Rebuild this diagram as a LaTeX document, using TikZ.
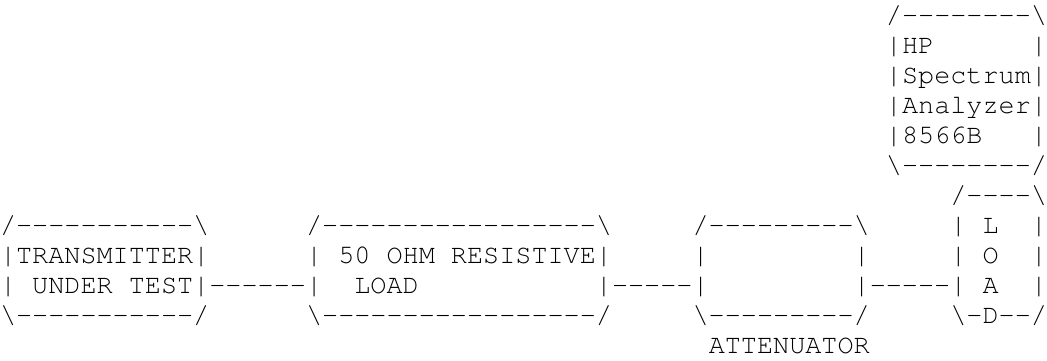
\documentclass[tikz,border=0pt]{standalone}
\usepackage{fontspec}
\setmonofont{TeX Gyre Cursor}
\usetikzlibrary{positioning}
\newcommand{\bs}{\textbackslash}
\tikzset{asc/.style={font=\ttfamily\fontsize{13.42}{15}\selectfont, inner sep=0pt, outer sep=0pt, anchor=base west}}
\begin{document}
\begin{tikzpicture}[x=8.054pt, y=-15pt]
\useasboundingbox (0,0) rectangle (65,12);
% spectrum analyzer
\foreach \txt [count=\r] in {/--------\bs, |HP~~~~~~|, |Spectrum|, |Analyzer|, |8566B~~~|, \bs--------/}
  \node[asc] (sa\r) at (55,\r-0.23) {\txt};
% transmitter
\foreach \txt [count=\r from 8] in {/-----------\bs, |TRANSMITTER|, |~UNDER~TEST|, \bs-----------/}
  \node[asc] (tx\r) at (0,\r-0.23) {\txt};
% resistive load
\foreach \txt [count=\r from 8] in {/-----------------\bs, |~50~OHM~RESISTIVE|, |~~LOAD~~~~~~~~~~~|, \bs-----------------/}
  \node[asc] (rl\r) at (19,\r-0.23) {\txt};
% attenuator
\foreach \txt [count=\r from 8] in {/---------\bs, |~~~~~~~~~|, |~~~~~~~~~|, \bs---------/, ~ATTENUATOR}
  \node[asc] (at\r) at (43,\r-0.23) {\txt};
% load
\foreach \txt [count=\r from 7] in {/----\bs, |~L~~|, |~O~~|, |~A~~|, \bs-D--/}
  \node[asc] (ld\r) at (59,\r-0.23) {\txt};
% cables
\node[asc] (w1) at (tx10.base east) {------};
\node[asc] (w2) at (rl10.base east) {-----};
\node[asc] (w3) at (at10.base east) {-----};
\end{tikzpicture}
\end{document}
